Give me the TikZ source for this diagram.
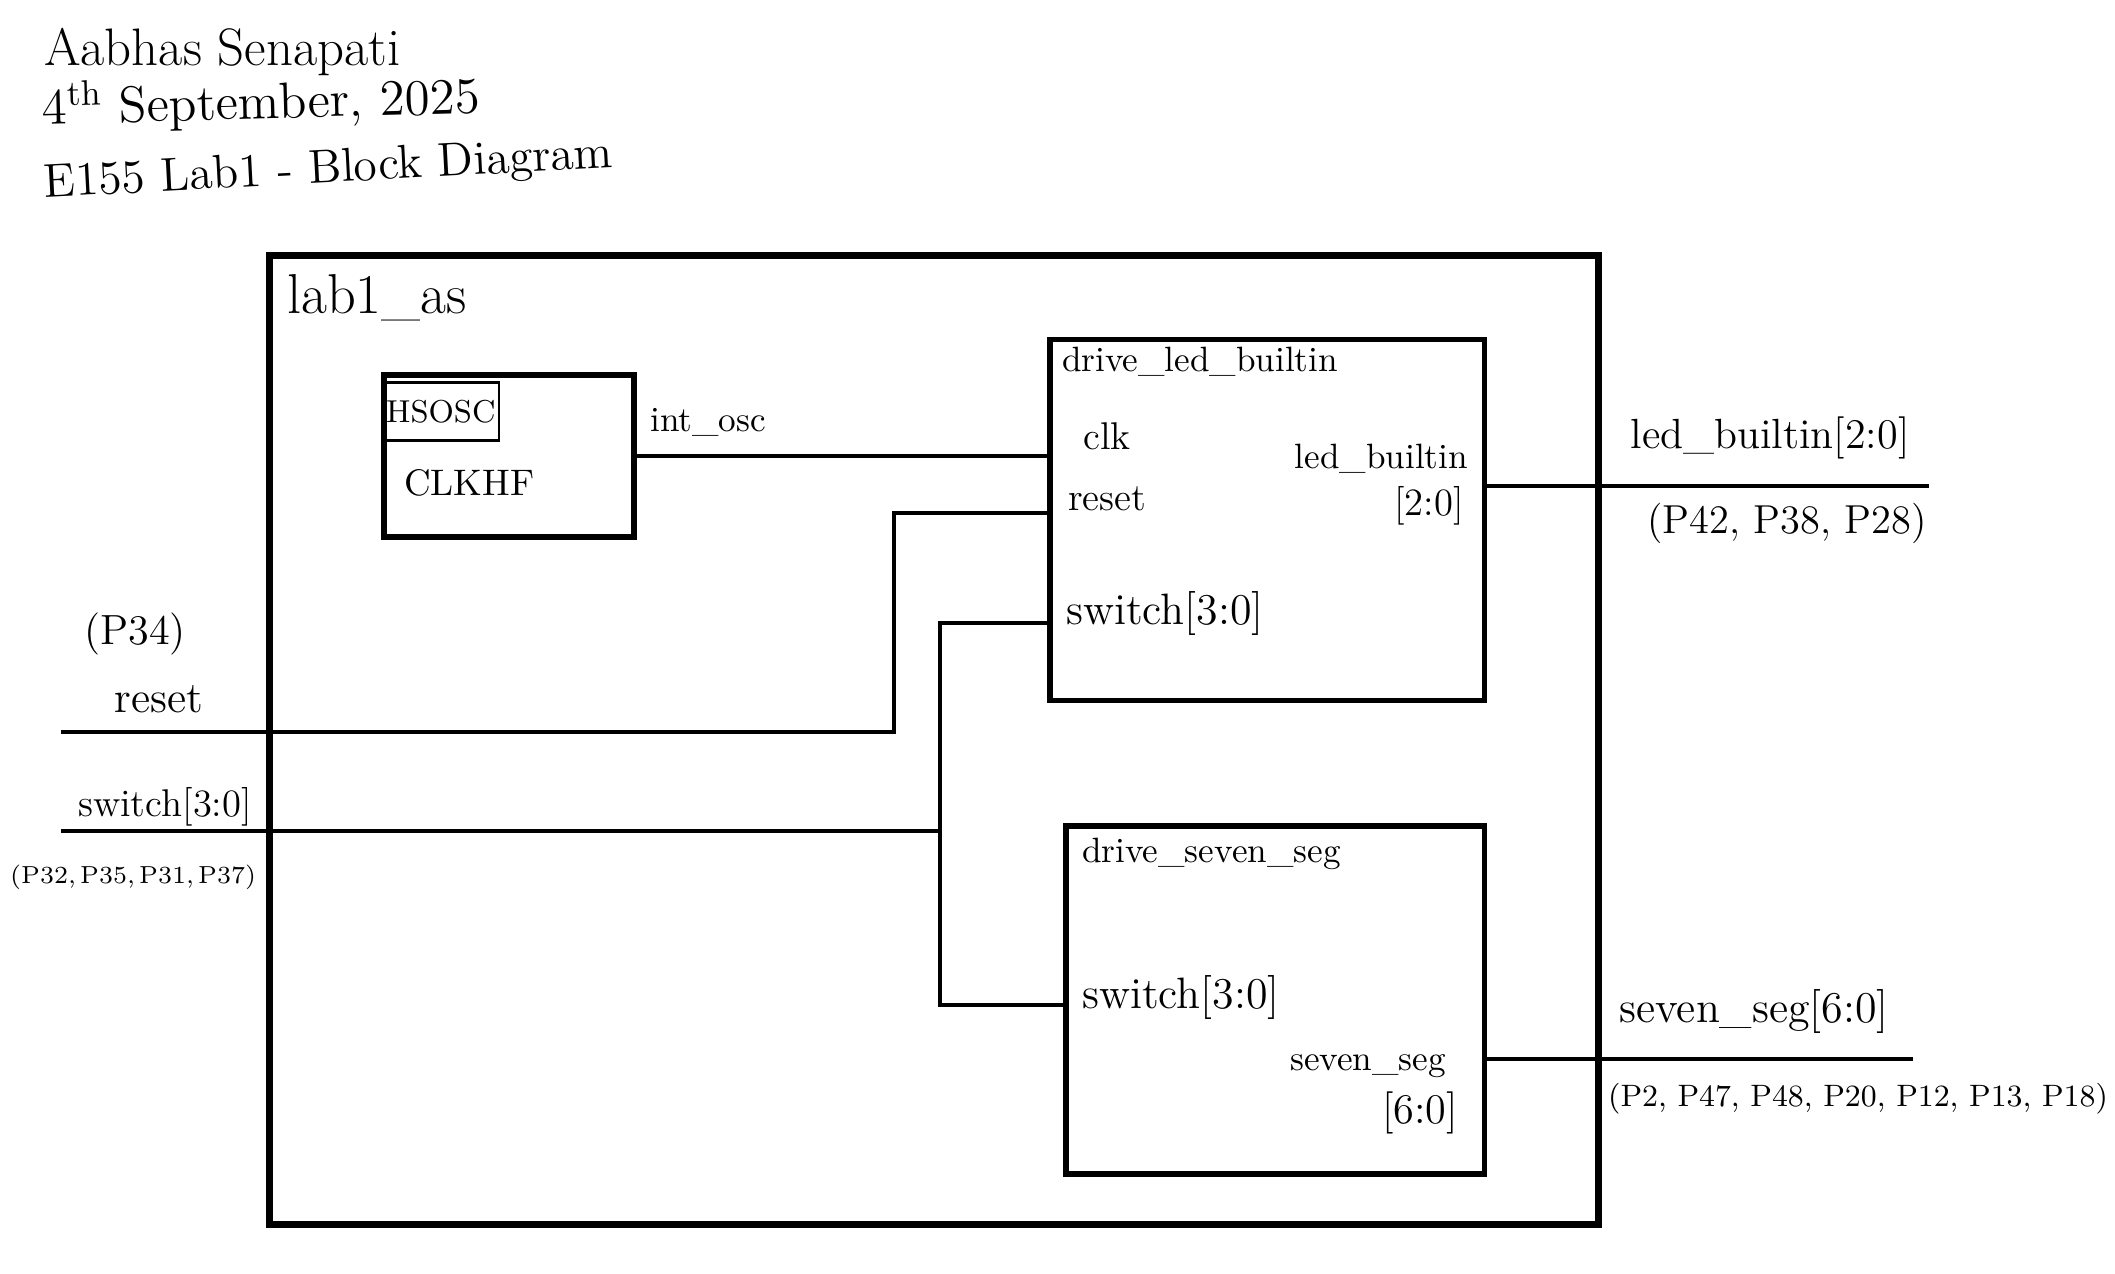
\documentclass[tikz,border=0pt]{standalone}
\usepackage{tikz}
\usetikzlibrary{calc}

\begin{document}
\begin{tikzpicture}[x=0.01cm, y=-0.01cm,
        outerbox/.style={draw, line width=2pt, minimum width=13.28cm, minimum height=9.69cm},
        blockbox/.style={draw, line width=1.5pt},
        wire/.style={line width=1.15pt},
        txt/.style={inner sep=1pt}
    ]
        \useasboundingbox (0,0) rectangle (2115,1274);

        % heading
        \node[txt, anchor=west, font={\fontsize{15}{18}\selectfont}] (name) at (40,52) {Aabhas Senapati};
        \node[txt, anchor=west, rotate=1.5, font={\fontsize{14.5}{18}\selectfont}] (date) at (38,108) {4\textsuperscript{th} September, 2025};
        \node[txt, anchor=west, rotate=3, font={\fontsize{13.5}{18}\selectfont}] (course) at (40,186) {E155 Lab1 - Block Diagram};

        % top module
        \node[outerbox] (top) at (934,740) {};
        \node[txt, anchor=west, font={\fontsize{16}{19}\selectfont}] (topname) at (283,298) {lab1\_as};

        % oscillator
        \node[blockbox, minimum width=2.5cm, minimum height=1.62cm] (osc) at (509,456) {};
        \node[draw, line width=0.8pt, anchor=north west, minimum width=1.12cm, minimum height=0.58cm,
            inner sep=1pt, font={\fontsize{9}{11}\selectfont}] (osctype) at ($(osc.north west)+(0,9)$) {HSOSC};
        \node[txt, anchor=west, font={\fontsize{10.5}{12}\selectfont}] (clkhf) at (400,483) {CLKHF};
        \node[txt, font={\fontsize{10}{12}\selectfont}] (intosc) at (708,422) {int\_osc};

        % drive_led_builtin
        \node[blockbox, minimum width=4.34cm, minimum height=3.61cm] (ledblk) at (1267,520) {};
        \node[txt, anchor=west, font={\fontsize{10}{12}\selectfont}] (ledname) at (1058,362) {drive\_led\_builtin};
        \node[txt, anchor=west, font={\fontsize{11}{13}\selectfont}] (ledclk) at (1079,436) {clk};
        \node[txt, anchor=west, font={\fontsize{11}{13}\selectfont}] (ledrst) at (1064,499) {reset};
        \node[txt, anchor=west, font={\fontsize{12.5}{14}\selectfont}] (ledswt) at (1062,614) {switch[3:0]};
        \node[txt, anchor=east, font={\fontsize{10}{12}\selectfont}] (ledbus) at (1472,459) {led\_builtin};
        \node[txt, anchor=east, font={\fontsize{11}{13}\selectfont}] (ledwid) at (1468,506) {[2:0]};

        % drive_seven_seg
        \node[blockbox, minimum width=4.18cm, minimum height=3.48cm] (segblk) at (1275,1000) {};
        \node[txt, anchor=west, font={\fontsize{10}{12}\selectfont}] (segname) at (1078,854) {drive\_seven\_seg};
        \node[txt, anchor=west, font={\fontsize{12.5}{14}\selectfont}] (segswt) at (1078,998) {switch[3:0]};
        \node[txt, anchor=east, font={\fontsize{10}{12}\selectfont}] (segbus) at (1450,1066) {seven\_seg};
        \node[txt, anchor=east, font={\fontsize{12}{14}\selectfont}] (segwid) at (1462,1113) {[6:0]};

        % pins
        \coordinate (rstin) at (61,732);
        \coordinate (rstpin) at (1050,513);
        \coordinate (swin) at (61,831);
        \coordinate (swtap) at (940,831);
        \coordinate (ledsw) at (1050,623);
        \coordinate (segsw) at (1066,1005);
        \coordinate (ledout) at (1929,486);
        \coordinate (segout) at (1913,1059);

        % wires
        \draw[wire] (osc.east) -- (osc.east -| ledblk.west);
        \draw[wire] (rstin) -- ++(833,0) |- (rstpin);
        \draw[wire] (swin) -- (swtap);
        \draw[wire] (ledsw) -| (swtap);
        \draw[wire] (segsw) -| (swtap);
        \draw[wire] (ledblk.east |- ledout) -- (ledout);
        \draw[wire] (segblk.east |- segout) -- (segout);

        % port labels
        \node[txt, font={\fontsize{12}{14}\selectfont}] (rstpinno) at (135,634) {(P34)};
        \node[txt, font={\fontsize{12.5}{14}\selectfont}] (rstport) at (159,699) {reset};
        \node[txt, font={\fontsize{11}{13}\selectfont}] (swport) at (165,807) {switch[3:0]};
        \node[txt, anchor=west, font={\fontsize{7}{9}\selectfont}] (swpinno) at (6,877) {(P32,\,P35,\,P31,\,P37)};
        \node[txt, font={\fontsize{12}{14}\selectfont}] (ledport) at (1770,438) {led\_builtin[2:0]};
        \node[txt, font={\fontsize{11.5}{14}\selectfont}] (ledpinno) at (1787,523) {(P42, P38, P28)};
        \node[txt, font={\fontsize{12.5}{14}\selectfont}] (segport) at (1754,1012) {seven\_seg[6:0]};
        \node[txt, font={\fontsize{8.8}{11}\selectfont}] (segpinno) at (1858,1099) {(P2, P47, P48, P20, P12, P13, P18)};
    \end{tikzpicture}
\end{document}
